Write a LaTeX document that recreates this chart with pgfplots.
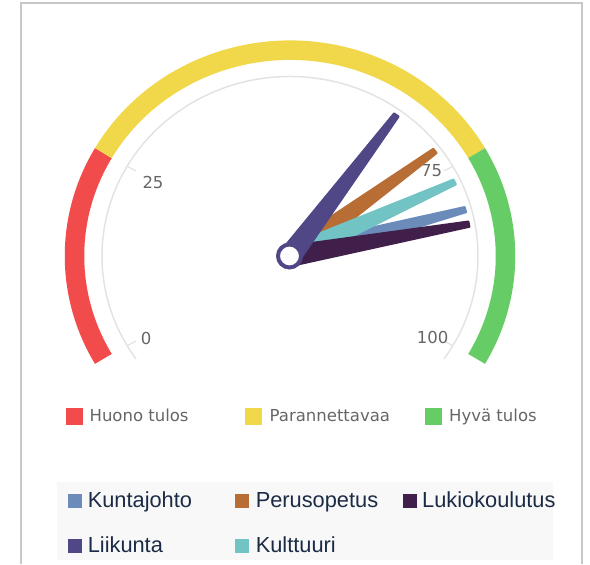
\documentclass[border=0pt]{standalone}
\usepackage{pgfplots}
\usepackage{pgfplotstable}
\pgfplotsset{compat=1.18}
\usepackage{fontspec}
\setmainfont{DejaVu Sans}
\newfontfamily\legfont{Liberation Sans}
\definecolor{cRed}{HTML}{F14B4B}
\definecolor{cYellow}{HTML}{F1D84A}
\definecolor{cGreen}{HTML}{66CC66}
\definecolor{cArc}{HTML}{E3E3E3}
\definecolor{cLbl}{HTML}{666666}
\definecolor{cFrame}{HTML}{C8C8C8}
\definecolor{cLegBg}{HTML}{F8F8F8}
\definecolor{cLegTxt}{HTML}{1C2B45}
\definecolor{cKunta}{HTML}{6B8CBA}
\definecolor{cPerus}{HTML}{B86D35}
\definecolor{cLukio}{HTML}{40204A}
\definecolor{cLiik}{HTML}{504786}
\definecolor{cKult}{HTML}{72C4C4}

% needle outline in local coordinates (u along needle, w across)
\pgfplotstableread{
u w
-2 -10.5
182 -2.8
182 2.8
-2 10.5
}\needleshape

% gauge centre (290,308) in axis units, vertical squash 0.955; value v -> angle 210-2.4v
\newcommand\needle[2]{%
  \addplot[fill=#2, draw=#2, line width=2pt, line join=round]
    table[x expr={290+\thisrow{u}*cos(210-2.4*#1)-\thisrow{w}*sin(210-2.4*#1)},
          y expr={308+0.955*(\thisrow{u}*sin(210-2.4*#1)+\thisrow{w}*cos(210-2.4*#1))}]
    {\needleshape} -- cycle;}

\begin{document}
\begin{tikzpicture}
\begin{axis}[x=1pt, y=1pt, xmin=0, xmax=590, ymin=0, ymax=564,
  scale only axis, hide axis, clip=false]
\path (axis cs:0,0) rectangle (axis cs:590,564);

% frame
\draw[cFrame, line width=2pt] (axis cs:21,0) -- (axis cs:21,560.5) -- (axis cs:582,560.5) -- (axis cs:582,0);

% bands
\draw[cRed, line width=19.5pt] (axis cs:{290+215.5*cos(210)},{308+205.8*sin(210)}) arc[start angle=210, end angle=150, x radius=215.5pt, y radius=205.8pt];
\draw[cYellow, line width=19.5pt] (axis cs:{290+215.5*cos(150)},{308+205.8*sin(150)}) arc[start angle=150, end angle=30, x radius=215.5pt, y radius=205.8pt];
\draw[cGreen, line width=19.5pt] (axis cs:{290+215.5*cos(30)},{308+205.8*sin(30)}) arc[start angle=30, end angle=-30, x radius=215.5pt, y radius=205.8pt];

% inner scale arc and ticks
\draw[cArc, line width=1.5pt] (axis cs:{290+188*cos(215)},{308+179.5*sin(215)}) arc[start angle=215, end angle=-35, x radius=188pt, y radius=179.5pt];
\pgfplotsinvokeforeach{210,150,30,-30}{
  \draw[cArc, line width=1.2pt] (axis cs:{290+188*cos(#1)},{308+179.5*sin(#1)}) -- (axis cs:{290+178*cos(#1)},{308+170*sin(#1)});
}
\node[text=cLbl, font=\fontsize{16.5}{16.5}\selectfont] at (axis cs:146,226) {0};
\node[text=cLbl, font=\fontsize{16.5}{16.5}\selectfont] at (axis cs:153,382) {25};
\node[text=cLbl, font=\fontsize{16.5}{16.5}\selectfont] at (axis cs:431.7,393) {75};
\node[text=cLbl, font=\fontsize{16.5}{16.5}\selectfont] at (axis cs:432.7,227) {100};

% needles
\needle{81.05}{cKunta}
\needle{72.0}{cPerus}
\needle{77.0}{cKult}
\needle{83.1}{cLukio}
\needle{64.9}{cLiik}

% pivot
\addplot[only marks, mark=*, mark size=11.5pt, mark options={fill=white, draw=cLiik, line width=4pt}] coordinates {(289.5,308)};

% legend 1 (bands)
\fill[cRed] (axis cs:65.5,139) rectangle (axis cs:82.5,156);
\fill[cYellow] (axis cs:245,139) rectangle (axis cs:262,156);
\fill[cGreen] (axis cs:425,139) rectangle (axis cs:442,156);
\node[anchor=base west, inner sep=0pt, text=cLbl, font=\fontsize{16.5}{16.5}\selectfont] at (axis cs:89.4,142) {Huono tulos};
\node[anchor=base west, inner sep=0pt, text=cLbl, font=\fontsize{16.5}{16.5}\selectfont] at (axis cs:269.5,142) {Parannettavaa};
\node[anchor=base west, inner sep=0pt, text=cLbl, font=\fontsize{16.5}{16.5}\selectfont] at (axis cs:449,142) {Hyvä tulos};

% legend 2 (needles)
\fill[cLegBg] (axis cs:57,4) rectangle (axis cs:553,82);
\fill[cKunta] (axis cs:68,56) rectangle (axis cs:82,70);
\fill[cPerus] (axis cs:235,56) rectangle (axis cs:249,70);
\fill[cLukio] (axis cs:402.6,56) rectangle (axis cs:416.6,70);
\fill[cLiik] (axis cs:68,11) rectangle (axis cs:82,25);
\fill[cKult] (axis cs:235,11) rectangle (axis cs:249,25);
\node[anchor=base west, inner sep=0pt, text=cLegTxt, font=\legfont\fontsize{21.8}{21.8}\selectfont] at (axis cs:87.6,56.2) {Kuntajohto};
\node[anchor=base west, inner sep=0pt, text=cLegTxt, font=\legfont\fontsize{21.8}{21.8}\selectfont] at (axis cs:255.6,56.2) {Perusopetus};
\node[anchor=base west, inner sep=0pt, text=cLegTxt, font=\legfont\fontsize{21.8}{21.8}\selectfont] at (axis cs:422,56.2) {Lukiokoulutus};
\node[anchor=base west, inner sep=0pt, text=cLegTxt, font=\legfont\fontsize{21.8}{21.8}\selectfont] at (axis cs:87.6,11) {Liikunta};
\node[anchor=base west, inner sep=0pt, text=cLegTxt, font=\legfont\fontsize{21.8}{21.8}\selectfont] at (axis cs:255.6,11) {Kulttuuri};
\end{axis}
\end{tikzpicture}
\end{document}
